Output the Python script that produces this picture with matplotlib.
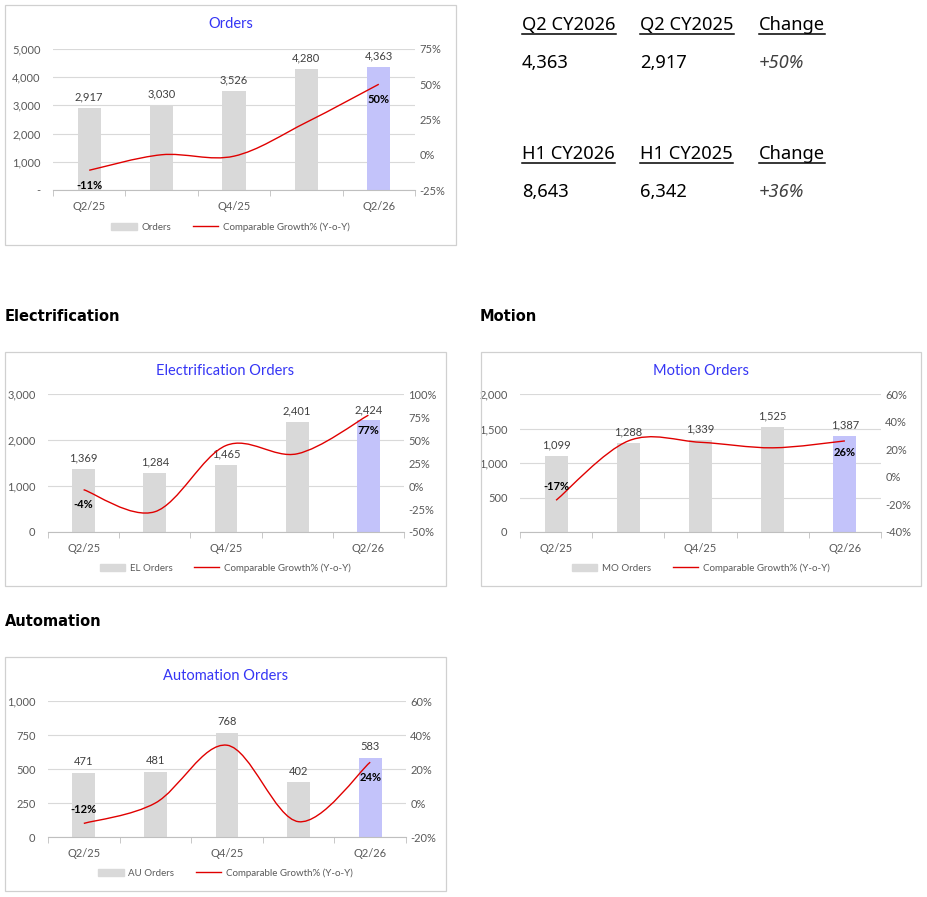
import numpy as np
import matplotlib
matplotlib.use("Agg")
import matplotlib.pyplot as plt
from matplotlib.patches import Rectangle, PathPatch, Patch
from matplotlib.path import Path
from matplotlib.lines import Line2D
from matplotlib.ticker import FuncFormatter, MultipleLocator, FixedLocator

W, H = 927, 897

quarters = ["Q2/25", "Q3/25", "Q4/25", "Q1/26", "Q2/26"]
shown_quarters = ["Q2/25", "", "Q4/25", "", "Q2/26"]

orders = [2917, 3030, 3526, 4280, 4363]
orders_growth = [-11, 0, -1, 23, 50]
el_orders = [1369, 1284, 1465, 2401, 2424]
el_growth = [-4, -28, 44, 35, 77]
mo_orders = [1099, 1288, 1339, 1525, 1387]
mo_growth = [-17, 26, 25, 21, 26]
au_orders = [471, 481, 768, 402, 583]
au_growth = [-12, 0, 34, -11, 24]

summary_q_headers = ["Q2 CY2026", "Q2 CY2025", "Change"]
summary_q_values = ["4,363", "2,917", "+50%"]
summary_h_headers = ["H1 CY2026", "H1 CY2025", "Change"]
summary_h_values = ["8,643", "6,342", "+36%"]

section_labels = ["Electrification", "Motion", "Automation"]

CHART_FONT = "Lato"
TEXT_FONT = "Noto Sans"
HEAD_FONT = "DejaVu Sans"
GREY_BAR = "#D9D9D9"
LAST_BAR = "#C3C3FA"
LINE_RED = "#E00000"
TITLE_BLUE = "#3535F5"
TICK_COL = "#595959"


def fx(x):
    return x / W


def fy(y):
    return 1 - y / H


def smooth_path(xs, ys):
    # excel style smoothed line (catmull-rom -> bezier)
    pts = np.column_stack([xs, ys]).astype(float)
    n = len(pts)
    verts = [pts[0]]
    codes = [Path.MOVETO]
    for i in range(n - 1):
        p0 = pts[max(i - 1, 0)]
        p1 = pts[i]
        p2 = pts[i + 1]
        p3 = pts[min(i + 2, n - 1)]
        verts += [p1 + (p2 - p0) / 6, p2 - (p3 - p1) / 6, p2]
        codes += [Path.CURVE4] * 3
    return Path(verts, codes)


def draw_chart(fig, box, plot, title, bar_name, values, growth,
               left_lim, left_step, right_lim, right_step,
               zero_dash, label_offsets):
    bx0, by0, bx1, by1 = box
    fig.patches.append(Rectangle((fx(bx0), fy(by1)), fx(bx1 - bx0), (by1 - by0) / H,
                                 transform=fig.transFigure, fill=False,
                                 edgecolor="#D0D0D0", lw=0.9))
    px0, py0, px1, py1 = plot
    ax = fig.add_axes([fx(px0), fy(py1), fx(px1 - px0), (py1 - py0) / H])
    x = np.arange(len(values))
    colors = [GREY_BAR] * (len(values) - 1) + [LAST_BAR]
    ax.bar(x, values, width=0.32, color=colors, zorder=2)
    ax.set_xlim(-0.5, len(values) - 0.5)
    ax.set_ylim(*left_lim)
    ax.yaxis.set_major_locator(MultipleLocator(left_step))
    ax.yaxis.set_major_formatter(FuncFormatter(
        lambda v, p: ("-" if zero_dash else "0") if v == 0 else f"{v:,.0f}"))
    ax.grid(axis="y", color="#D9D9D9", lw=0.8, zorder=0)
    ax.set_axisbelow(True)
    for s in ["top", "left", "right"]:
        ax.spines[s].set_visible(False)
    ax.spines["bottom"].set_color("#BFBFBF")
    ax.set_xticks(x)
    ax.set_xticklabels(shown_quarters)
    ax.xaxis.set_minor_locator(FixedLocator(np.arange(-0.5, len(values), 1.0)))
    ax.tick_params(axis="x", which="major", length=0, pad=8,
                   labelsize=8, labelcolor=TICK_COL)
    ax.tick_params(axis="x", which="minor", length=4, color="#BFBFBF")
    ax.tick_params(axis="y", length=0, pad=9, labelsize=8, labelcolor=TICK_COL)
    for i, v in enumerate(values):
        ax.annotate(f"{v:,}", (i, v), xytext=(0, 4), textcoords="offset points",
                    ha="center", va="bottom", fontsize=8, color="#404040",
                    family=CHART_FONT)

    ax2 = ax.twinx()
    ax2.set_ylim(*right_lim)
    ax2.yaxis.set_major_locator(MultipleLocator(right_step))
    ax2.yaxis.set_major_formatter(FuncFormatter(lambda v, p: f"{v:.0f}%"))
    for s in ["top", "left", "right", "bottom"]:
        ax2.spines[s].set_visible(False)
    ax2.tick_params(axis="y", length=0, pad=3, labelsize=8, labelcolor=TICK_COL)
    ax2.add_patch(PathPatch(smooth_path(x, growth), fill=False,
                            edgecolor=LINE_RED, lw=1.0, zorder=3))
    for idx, off in zip([0, len(growth) - 1], label_offsets):
        ax2.annotate(f"{growth[idx]}%", (idx, growth[idx]), xytext=(0, off),
                     textcoords="offset points", ha="center", va="center",
                     fontsize=8, fontweight="bold", color="black",
                     family=CHART_FONT)
    for a in (ax, ax2):
        for lab in a.get_xticklabels() + a.get_yticklabels():
            lab.set_family(CHART_FONT)

    cx = (bx0 + bx1) / 2
    fig.text(fx(cx), fy(by0 + 19), title, ha="center", va="center",
             fontsize=10.5, color=TITLE_BLUE, family=CHART_FONT)
    handles = [Patch(color=GREY_BAR), Line2D([], [], color=LINE_RED, lw=1.0)]
    fig.legend(handles, [bar_name, "Comparable Growth% (Y-o-Y)"],
               loc="center", bbox_to_anchor=(fx(cx), fy(by1 - 18)),
               ncol=2, frameon=False, handlelength=2.6,
               handleheight=0.8, columnspacing=2.2, handletextpad=0.5,
               labelcolor=TICK_COL, prop={"family": CHART_FONT, "size": 7})


fig = plt.figure(figsize=(W / 100, H / 100), dpi=100)

draw_chart(fig, (5, 5, 456, 245), (53, 49, 415, 190), "Orders", "Orders",
           orders, orders_growth, (0, 5000), 1000, (-25, 75), 25, True, (-11, -11))
draw_chart(fig, (5, 352, 446, 586), (48, 394, 404, 532), "Electrification Orders",
           "EL Orders", el_orders, el_growth, (0, 3000), 1000, (-50, 100), 25,
           False, (-11, -11))
draw_chart(fig, (481, 352, 921, 586), (520, 394, 881, 532), "Motion Orders",
           "MO Orders", mo_orders, mo_growth, (0, 2000), 500, (-40, 60), 20,
           False, (10, -8))
draw_chart(fig, (5, 657, 446, 891), (48, 701, 406, 837), "Automation Orders",
           "AU Orders", au_orders, au_growth, (0, 1000), 250, (-20, 60), 20,
           False, (10, -11))

# section headings
for label, (sx, sy) in zip(section_labels, [(5, 316), (480, 316), (5, 622)]):
    fig.text(fx(sx), fy(sy), label, ha="left", va="center", fontsize=10.5,
             fontweight="bold", color="black", family=HEAD_FONT)

# summary table top right
col_x = [522, 640, 759]
renderer = fig.canvas.get_renderer()
for headers, vals, hy, vy in [(summary_q_headers, summary_q_values, 25, 63),
                              (summary_h_headers, summary_h_values, 154, 192)]:
    for i, (hd, vl) in enumerate(zip(headers, vals)):
        t = fig.text(fx(col_x[i]), fy(hy), hd, ha="left", va="center",
                     fontsize=13.2, color="black", family=TEXT_FONT)
        bb = t.get_window_extent(renderer)
        fig.lines.append(Line2D([bb.x0 / W, bb.x1 / W], [fy(hy + 9)] * 2,
                                transform=fig.transFigure, color="black", lw=1.1))
        fig.text(fx(col_x[i]), fy(vy), vl, ha="left", va="center",
                 fontsize=13.2, color="#404040" if i == 2 else "black",
                 style="italic" if i == 2 else "normal", family=TEXT_FONT)

fig.savefig("out.png", dpi=100)
